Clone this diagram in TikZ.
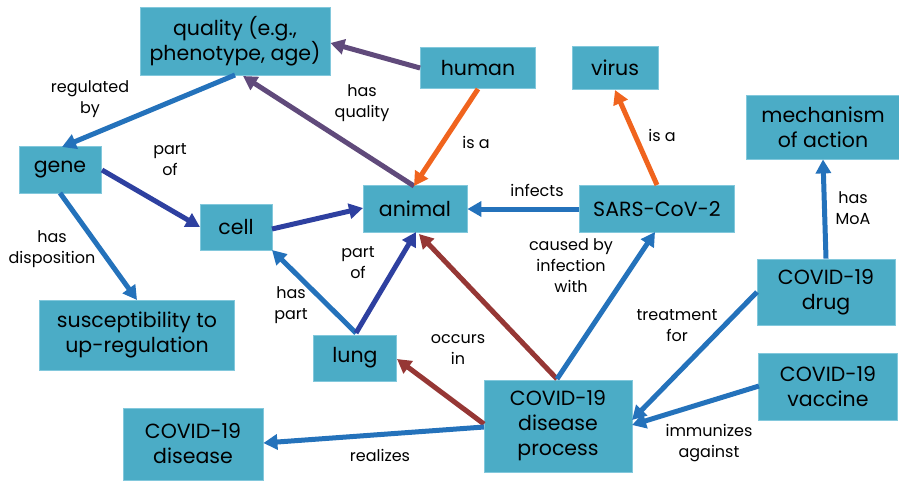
\documentclass[tikz,border=0pt]{standalone}
\usepackage{fontspec}
\setmainfont{Poppins}
\usetikzlibrary{arrows.meta}
\definecolor{boxfill}{RGB}{75,172,198}
\definecolor{boxline}{RGB}{130,200,220}
\definecolor{eblue}{RGB}{36,114,187}
\definecolor{edark}{RGB}{46,64,160}
\definecolor{epurple}{RGB}{96,74,123}
\definecolor{eorange}{RGB}{240,100,30}
\definecolor{ered}{RGB}{150,55,53}
\tikzset{
  box/.style={draw=boxline, line width=0.8pt, fill=boxfill, align=center, inner sep=0pt, font=\fontsize{20.5}{25}\selectfont},
  lbl/.style={align=center, font=\fontsize{16}{21}\selectfont, inner sep=0pt},
  rel/.style={line width=5pt, -{Triangle[length=14pt,width=15pt]}},
}
\begin{document}
\begin{tikzpicture}[x=1pt,y=-1pt]
\useasboundingbox (0,0) rectangle (899,480);
\node[box, minimum width=190pt, minimum height=68pt] (quality) at (235,41) {quality (e.g.,\\phenotype, age)};
\node[box, minimum width=115pt, minimum height=41pt] (human) at (478,68) {human};
\node[box, minimum width=86pt, minimum height=43pt] (virus) at (615,68) {virus};
\node[box, minimum width=153pt, minimum height=64pt] (moa) at (823,127) {mechanism\\of action};
\node[box, minimum width=82pt, minimum height=47pt] (gene) at (60,170) {gene};
\node[box, minimum width=72pt, minimum height=46pt] (cell) at (236,227) {cell};
\node[box, minimum width=104pt, minimum height=47pt] (animal) at (415,209) {animal};
\node[box, minimum width=155pt, minimum height=47pt] (sars) at (657,209) {SARS-CoV-2};
\node[box, minimum width=195pt, minimum height=70pt] (susc) at (137,335) {susceptibility to\\up-regulation};
\node[box, minimum width=83pt, minimum height=46pt] (lung) at (355,358) {lung};
\node[box, minimum width=138pt, minimum height=66pt] (drug) at (826,292) {COVID-19\\drug};
\node[box, minimum width=139pt, minimum height=67pt] (vaccine) at (828,387) {COVID-19\\vaccine};
\node[box, minimum width=148pt, minimum height=92pt] (process) at (558,426) {COVID-19\\disease\\process};
\node[box, minimum width=140pt, minimum height=72pt] (disease) at (193,444) {COVID-19\\disease};

\coordinate (animalTop) at (414,186);
\coordinate (qualityBot) at (243,76);
\coordinate (lungTop) at (356,333);
\coordinate (procTop) at (557,379);

\draw[rel, epurple] (human.west) -- (quality.east |- 0,43);
\draw[rel, epurple] (animalTop) -- (qualityBot);
\draw[rel, eblue] (235,75) -- (62,147);
\draw[rel, eorange] (478,89) -- (animalTop);
\draw[rel, edark] (102,170) -- (200,227);
\draw[rel, eblue] (60,193) -- (137,300);
\draw[rel, edark] (272,229) -- (363,208);
\draw[rel, eblue] (lungTop) -- (272,250);
\draw[rel, edark] (lungTop) -- (416,232);
\draw[rel, eblue] (sars.west) -- (animal.east);
\draw[rel, eorange] (657,185) -- (615,90);
\draw[rel, ered] (procTop) -- (419,234);
\draw[rel, ered] (484,424) -- (397,359);
\draw[rel, eblue] (procTop) -- (655,232);
\draw[rel, eblue] (484,427) -- (disease.east |- 0,443);
\draw[rel, eblue] (757,292) -- (632,420);
\draw[rel, eblue] (759,386) -- (632,425);
\draw[rel, eblue] (drug.north) -- (moa.south);

\node[lbl] (l1) at (90,99) {regulated\\by};
\node[lbl] (l2) at (362,103) {has\\quality};
\node[lbl] (l3) at (476,142) {is a};
\node[lbl] (l4) at (170,160) {part\\of};
\node[lbl] (l5) at (52,249) {has\\disposition};
\node[lbl] (l6) at (537,190) {infects};
\node[lbl] (l7) at (662,135) {is a};
\node[lbl] (l8) at (853,208) {has\\MoA};
\node[lbl] (l9) at (358,263) {part\\of};
\node[lbl] (l10) at (291,305) {has\\part};
\node[lbl] (l11) at (458,350) {occurs\\in};
\node[lbl] (l12) at (571,266) {caused by\\infection\\with};
\node[lbl] (l13) at (677,326) {treatment\\for};
\node[lbl] (l14) at (709,443) {immunizes\\against};
\node[lbl] (l15) at (380,455) {realizes};
\end{tikzpicture}
\end{document}
